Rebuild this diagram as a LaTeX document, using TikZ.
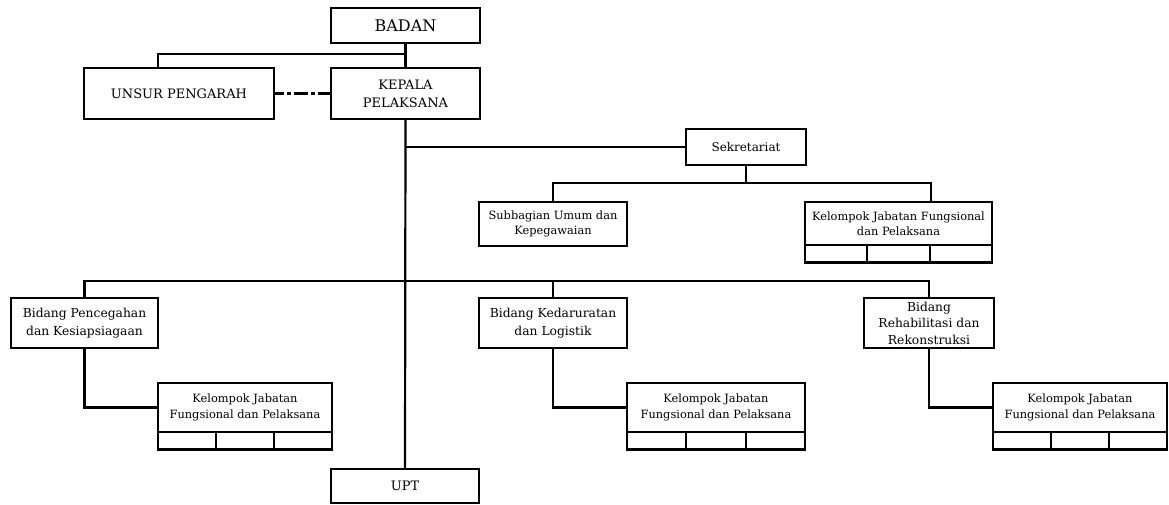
\documentclass[tikz,border=0pt]{standalone}
\usepackage{fontspec}
\setmainfont{DejaVu Serif}
\usetikzlibrary{positioning}

\begin{document}
\begin{tikzpicture}[x=1pt, y=-1pt, line width=2.2pt,
    unit/.style={draw, rectangle, outer sep=0pt, inner sep=2pt, align=center},
    cell/.style={draw, rectangle, outer sep=0pt, inner sep=0pt, minimum height=17.5pt},
    bigtext/.style={font=\fontsize{16}{18}\selectfont},
    midtext/.style={font=\fontsize{13}{18}\selectfont},
    bidtext/.style={font=\fontsize{12.3}{18}\selectfont},
    smalltext/.style={font=\fontsize{11.4}{15.5}\selectfont}]

  % fixed frame of the page
  \useasboundingbox (0,0) rectangle (1169,504);

  % --- top: badan, unsur pengarah, kepala ---
  \node[unit, bigtext, minimum width=149pt, minimum height=35pt] (badan) at (405.5,25.5) {BADAN};
  \node[unit, midtext, minimum width=190pt, minimum height=51pt] (unsur) at (179,93.5) {UNSUR PENGARAH};
  \node[unit, midtext, minimum width=149pt, minimum height=51pt] (kepala) at (405.5,93.5) {KEPALA\\PELAKSANA};

  % --- sekretariat and its units ---
  \node[unit, font=\fontsize{12}{15}\selectfont, minimum width=120pt, minimum height=36pt] (sekr) at (746,147) {Sekretariat};
  \node[unit, smalltext, minimum width=148pt, minimum height=44pt] (subbag) at (553,224) {Subbagian Umum dan\\Kepegawaian};
  \node[unit, smalltext, minimum width=187pt, minimum height=43pt] (kjfs) at (898.5,223.5) {Kelompok Jabatan Fungsional\\dan Pelaksana};

  % --- bidang ---
  \node[unit, bidtext, minimum width=147pt, minimum height=50pt] (bid1) at (84.5,323) {Bidang Pencegahan\\dan Kesiapsiagaan};
  \node[unit, bidtext, minimum width=148pt, minimum height=50pt] (bid2) at (553,323) {Bidang Kedaruratan\\dan Logistik};
  \node[unit, bidtext, minimum width=130pt, minimum height=50pt, font=\fontsize{12.3}{16.5}\selectfont] (bid3) at (929,323) {Bidang\\Rehabilitasi dan\\Rekonstruksi};

  % --- kelompok jabatan fungsional under each bidang ---
  \node[unit, smalltext, minimum width=174pt, minimum height=49pt] (kjf1) at (245,407.5) {Kelompok Jabatan\\Fungsional dan Pelaksana};
  \node[unit, smalltext, minimum width=178pt, minimum height=49pt] (kjf2) at (716,407.5) {Kelompok Jabatan\\Fungsional dan Pelaksana};
  \node[unit, smalltext, minimum width=174pt, minimum height=49pt] (kjf3) at (1080,407.5) {Kelompok Jabatan\\Fungsional dan Pelaksana};

  % three empty cells below every kelompok box
  \foreach \n/\w in {kjfs/62.33, kjf1/58, kjf2/59.33, kjf3/58} {
    \node[cell, minimum width=\w pt, anchor=north west] (\n a) at (\n.south west) {};
    \node[cell, minimum width=\w pt, right=0pt of \n a] (\n b) {};
    \node[cell, minimum width=\w pt, right=0pt of \n b] (\n c) {};
  }

  % --- upt ---
  \node[unit, midtext, minimum width=148pt, minimum height=34pt] (upt) at (405,486) {UPT};

  % connectors
  \draw (badan.south) -- ++(0,11) -| ([xshift=-21pt]unsur.north);
  \draw (badan) -- (kepala);
  \draw[dash pattern=on 10pt off 3pt on 4pt off 3pt on 14pt off 3pt on 4pt off 3pt on 16pt off 0pt] (unsur.east) -- (kepala.west);
  \draw (kepala.south) -- (upt.north);
  \draw (sekr.west) -- (sekr.west -| kepala.south);
  \draw (sekr.south) -- ++(0,18) -| (subbag.north);
  \draw (sekr.south) ++(0,18) -| ([xshift=32.5pt]kjfs.north);
  \draw (bid1.north) -- ++(0,-17) -| (bid3.north);
  \draw (bid2.north) -- ++(0,-17);
  \draw (bid1.south) |- (kjf1.west);
  \draw (bid2.south) |- (kjf2.west);
  \draw (bid3.south) |- (kjf3.west);

\end{tikzpicture}
\end{document}
